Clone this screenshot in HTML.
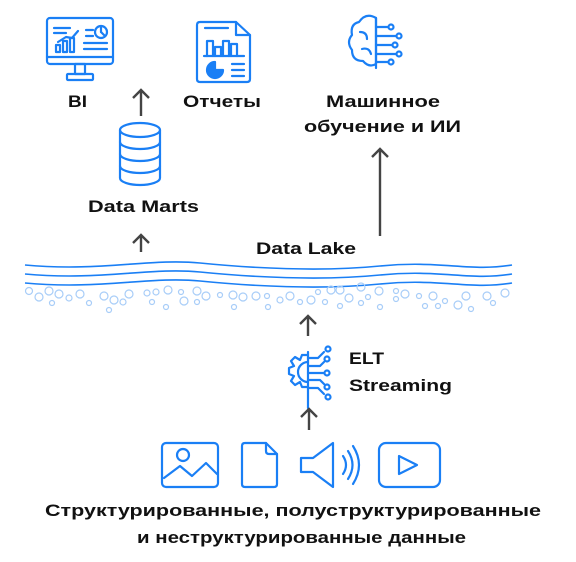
<!DOCTYPE html>
<html><head><meta charset="utf-8"><style>
html,body{margin:0;padding:0;background:#fff;}
svg{display:block;}
text{font-family:"Liberation Sans",sans-serif;font-weight:bold;fill:#111;}
</style></head><body>
<svg width="576" height="562" viewBox="0 0 576 562" xmlns="http://www.w3.org/2000/svg">
<g fill="none" stroke="#1a7ff5" stroke-width="2.2" stroke-linecap="round" stroke-linejoin="round">
<rect x="47" y="18" width="66" height="46" rx="3"/>
<line x1="47" y1="57" x2="113" y2="57"/>
<rect x="75" y="64" width="10" height="10"/>
<rect x="67" y="74" width="26" height="6" rx="1"/>
<line x1="54" y1="28" x2="70" y2="28"/><line x1="54" y1="33" x2="66" y2="33"/>
<polyline points="58,42 66,37 72,38 78,31"/>
<rect x="56" y="45" width="4" height="7"/><rect x="63" y="41" width="4" height="11"/><rect x="70" y="38" width="4" height="14"/>
<circle cx="101" cy="32" r="6"/><line x1="101" y1="32" x2="101" y2="26"/><line x1="101" y1="32" x2="105" y2="36"/>
<line x1="86" y1="30" x2="93" y2="30"/><line x1="86" y1="36" x2="93" y2="36"/>
<line x1="84" y1="43" x2="107" y2="43"/><line x1="84" y1="49" x2="107" y2="49"/>
<path d="M200,22 h36 l14,13 v44 q0,3 -3,3 h-47 q-3,0 -3,-3 v-54 q0,-3 3,-3z"/>
<path d="M236,22 v13 h14"/>
<line x1="205" y1="28" x2="228" y2="28"/>
<polyline points="207,56 207,41 213,41 213,56"/><polyline points="215,56 215,47 221,47 221,56"/><polyline points="223,56 223,41 229,41 229,56"/><polyline points="231,56 231,44 237,44 237,56"/>
<line x1="204" y1="56" x2="244" y2="56"/>
<path d="M215,62 a8,8 0 1 0 8,8 h-8z" fill="#1a7ff5"/>
<line x1="232" y1="64" x2="244" y2="64"/><line x1="232" y1="70" x2="244" y2="70"/><line x1="232" y1="76" x2="244" y2="76"/>
<ellipse cx="140" cy="130" rx="20" ry="7"/>
<path d="M120,130 v48 a20,7 0 0 0 40,0 v-48"/>
<path d="M120,142 a20,7 0 0 0 40,0"/><path d="M120,154 a20,7 0 0 0 40,0"/><path d="M120,166 a20,7 0 0 0 40,0"/>
<!-- brain -->
<path d="M376,18 q-10,-6 -17,4 q-9,2 -7,13 q-6,7 0,15 q0,11 11,11 q6,7 13,3 z"/>
<line x1="376" y1="18" x2="376" y2="68"/>
<line x1="376" y1="27" x2="388" y2="27"/><circle cx="391" cy="27" r="2.5"/>
<line x1="376" y1="36" x2="396" y2="36"/><circle cx="399" cy="36" r="2.5"/>
<line x1="376" y1="45" x2="392" y2="45"/><circle cx="395" cy="45" r="2.5"/>
<line x1="376" y1="54" x2="396" y2="54"/><circle cx="399" cy="54" r="2.5"/>
<line x1="376" y1="62" x2="388" y2="62"/><circle cx="391" cy="62" r="2.5"/>
<path d="M360,32 q7,0 7,7 M362,49 q7,-2 9,5"/>
<!-- ELT -->
<path d="M308,352 v56"/>
<path d="M308,362 a10,10 0 0 0 0,20 M308,355 h-6 l-2,5 -5,-3 -4,4 3,5 -5,2 v6 l5,2 -3,5 4,4 5,-3 2,5 h6"/>
<path d="M308,358 h10 l6,-6"/><circle cx="328" cy="349" r="2.5"/>
<path d="M308,366 h12 l4,-4"/><circle cx="327" cy="359" r="2.5"/>
<line x1="308" y1="373" x2="324" y2="373"/><circle cx="327" cy="373" r="2.5"/>
<path d="M308,380 h12 l4,4"/><circle cx="327" cy="387" r="2.5"/>
<path d="M308,388 h10 l6,6"/><circle cx="328" cy="397" r="2.5"/>
<rect x="162" y="443" width="56" height="44" rx="4"/>
<circle cx="183" cy="455" r="6"/>
<polyline points="164,478 180,466 192,476 206,463 217,474"/>
<path d="M245,443 h21 l11,11 v30 q0,3 -3,3 h-29 q-3,0 -3,-3 v-38 q0,-3 3,-3z"/>
<path d="M266,443 v8 q0,3 3,3 h8"/>
<path d="M301,458 h12 l20,-15 v44 l-20,-15 h-12z"/>
<path d="M343,456 q6,9 0,18 M348,451 q9,14 0,28 M353,446 q12,19 0,38"/>
<rect x="379" y="443" width="61" height="44" rx="7"/>
<path d="M399,456 l18,9 -18,9z"/>
</g>
<g stroke="#444" stroke-width="2.4" fill="none">
<path d="M141,116 v-26 M133,98 l8,-8 8,8"/>
<path d="M141,252 v-17 M133,243 l8,-8 8,8"/>
<path d="M380,236 v-87 M372,157 l8,-8 8,8"/>
<path d="M308,336 v-20 M300,324 l8,-8 8,8"/>
<path d="M309,430 v-21 M301,417 l8,-8 8,8"/>
</g>
<g fill="none" stroke-width="1.6">
<path d="M25,265 C100,272 150,258 200,263 S320,272 380,266 S470,272 512,265" stroke="#1a7ff5"/>
<path d="M25,274 C100,281 150,267 200,272 S320,281 380,275 S470,281 512,274" stroke="#1a7ff5"/>
<path d="M25,283 C100,290 150,276 200,281 S320,290 380,284 S470,290 512,283" stroke="#1a7ff5"/>
</g>
<g fill="none" stroke="#a8cdf8" stroke-width="1.2">
<circle cx="29" cy="291" r="3.5"/><circle cx="39" cy="297" r="4"/><circle cx="49" cy="291" r="4"/><circle cx="59" cy="294" r="4"/><circle cx="52" cy="303" r="2.5"/><circle cx="69" cy="298" r="3"/><circle cx="80" cy="294" r="4"/><circle cx="89" cy="303" r="2.5"/><circle cx="104" cy="296" r="4"/><circle cx="114" cy="300" r="4"/><circle cx="109" cy="310" r="2.5"/><circle cx="123" cy="302" r="3"/><circle cx="129" cy="294" r="4"/><circle cx="147" cy="293" r="3"/><circle cx="156" cy="292" r="3"/><circle cx="152" cy="302" r="2.5"/><circle cx="168" cy="290" r="4"/><circle cx="181" cy="292" r="2.5"/><circle cx="184" cy="301" r="4"/><circle cx="166" cy="307" r="2.5"/><circle cx="197" cy="291" r="4"/><circle cx="206" cy="296" r="4"/><circle cx="197" cy="302" r="2.5"/><circle cx="220" cy="295" r="2.5"/><circle cx="233" cy="295" r="4"/><circle cx="243" cy="297" r="4"/><circle cx="234" cy="307" r="2.5"/><circle cx="256" cy="296" r="4"/><circle cx="267" cy="296" r="2.5"/><circle cx="268" cy="307" r="2.5"/><circle cx="280" cy="300" r="3"/><circle cx="290" cy="296" r="4"/><circle cx="300" cy="302" r="2.5"/><circle cx="311" cy="300" r="4"/><circle cx="318" cy="292" r="2.5"/><circle cx="325" cy="302" r="2.5"/><circle cx="331" cy="290" r="4"/><circle cx="340" cy="290" r="4"/><circle cx="349" cy="298" r="4"/><circle cx="340" cy="306" r="2.5"/><circle cx="361" cy="287" r="4"/><circle cx="361" cy="303" r="2.5"/><circle cx="368" cy="297" r="2.5"/><circle cx="379" cy="291" r="4"/><circle cx="380" cy="307" r="2.5"/><circle cx="396" cy="291" r="2.5"/><circle cx="405" cy="294" r="4"/><circle cx="396" cy="299" r="2.5"/><circle cx="419" cy="296" r="2.5"/><circle cx="425" cy="306" r="2.5"/><circle cx="433" cy="296" r="4"/><circle cx="438" cy="306" r="2.5"/><circle cx="445" cy="301" r="2.5"/><circle cx="458" cy="305" r="4"/><circle cx="466" cy="296" r="4"/><circle cx="471" cy="309" r="2.5"/><circle cx="487" cy="296" r="4"/><circle cx="493" cy="303" r="2.5"/><circle cx="505" cy="293" r="4"/>
</g>
<text x="68" y="107" font-size="17" textLength="19" lengthAdjust="spacingAndGlyphs">BI</text>
<text x="183" y="107" font-size="17" textLength="78" lengthAdjust="spacingAndGlyphs">Отчеты</text>
<text x="88" y="212" font-size="17" textLength="111" lengthAdjust="spacingAndGlyphs">Data Marts</text>
<text x="326" y="107" font-size="17" textLength="114" lengthAdjust="spacingAndGlyphs">Машинное</text>
<text x="304" y="132" font-size="17" textLength="157" lengthAdjust="spacingAndGlyphs">обучение и ИИ</text>
<text x="256" y="254" font-size="17" textLength="100" lengthAdjust="spacingAndGlyphs">Data Lake</text>
<text x="349" y="364" font-size="17" textLength="35" lengthAdjust="spacingAndGlyphs">ELT</text>
<text x="349" y="391" font-size="17" textLength="103" lengthAdjust="spacingAndGlyphs">Streaming</text>
<text x="45" y="516" font-size="17" textLength="496" lengthAdjust="spacingAndGlyphs">Структурированные, полуструктурированные</text>
<text x="137" y="543" font-size="17" textLength="329" lengthAdjust="spacingAndGlyphs">и неструктурированные  данные</text>
</svg>
</body></html>
